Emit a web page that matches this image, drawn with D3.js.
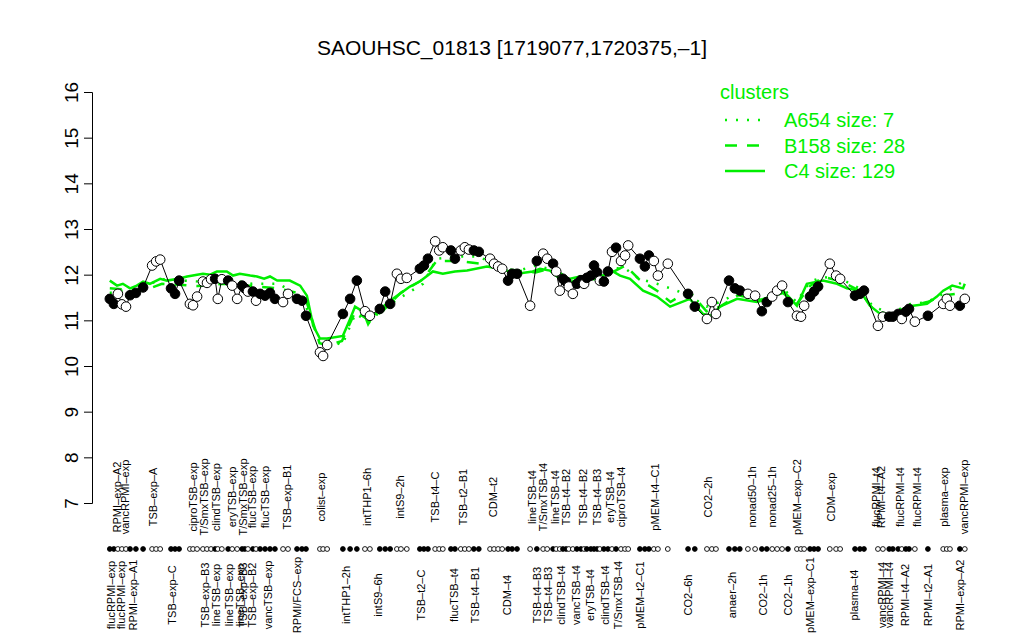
<!DOCTYPE html>
<html>
<head>
<meta charset="utf-8">
<script src="https://cdn.jsdelivr.net/npm/d3@7"></script>
<style>
  body { margin: 0; background: #fff; }
  text { font-family: "Liberation Sans", Arial, Helvetica, sans-serif; }
</style>
</head>
<body>
<div id="chart"></div>
<script>
var width = 1024,
    height = 640;

// sample positions (sample index along the x axis), expression values, filled marker flag
var sampleX = [0.4, 1.3, 2.2, 3.1, 4.0, 4.9, 6.2, 7.8, 9.8, 10.7, 11.6, 14.0, 14.9, 15.8, 18.2, 18.9, 19.8,
    21.1, 22.0, 22.9, 23.8, 24.4, 25.3, 26.7, 27.6, 28.7, 29.8, 30.4, 31.1, 32.2, 32.9, 33.8, 34.9, 36.0, 37.1,
    38.9, 40.0, 42.0, 43.1, 44.0, 47.1, 47.8, 48.7, 52.2, 53.8, 55.3, 57.1, 58.2, 60.4, 61.6, 62.7, 64.2, 65.1,
    66.4, 69.3, 70.2, 71.1, 72.7, 73.6, 74.4, 76.2, 77.1, 78.4, 79.3, 80.2, 81.3, 82.4, 84.9, 85.8, 86.7, 87.6,
    88.9, 89.8, 90.9, 93.8, 95.3, 96.7, 97.6, 98.9, 99.6, 100.4, 101.1, 101.8, 102.4, 103.3, 104.2, 105.1, 105.8,
    106.4, 107.3, 108.0, 108.7, 109.3, 110.2, 111.1, 112.0, 112.9, 114.0, 114.9, 115.6, 118.2, 119.3, 120.2,
    121.3, 122.2, 124.4, 128.9, 130.4, 133.1, 134.2, 135.1, 138.0, 139.3, 140.4, 142.2, 143.8, 145.3, 146.4,
    147.6, 148.7, 149.8, 151.1, 153.1, 154.0, 154.7, 156.0, 156.9, 157.8, 160.4, 161.8, 162.7, 166.0, 167.1,
    168.0, 171.1, 172.2, 173.6, 174.4, 175.6, 176.4, 177.3, 178.0, 179.3, 182.2, 185.6, 186.4, 187.1, 189.3, 190.4];
var sampleY = [11.47, 11.36, 11.58, 11.35, 11.3, 11.55, 11.6, 11.72, 12.2, 12.29, 12.33, 11.7, 11.58, 11.87, 11.36, 11.33, 11.52,
    11.85, 11.82, 11.9, 11.91, 11.47, 11.9, 11.87, 11.76, 11.47, 11.76, 11.7, 11.63, 11.63, 11.43, 11.58, 11.54, 11.6, 11.47,
    11.4, 11.58, 11.47, 11.43, 11.1, 10.3, 10.22, 10.46, 11.14, 11.47, 11.87, 11.2, 11.1, 11.25, 11.63, 11.36, 12.02, 11.91,
    11.93, 12.13, 12.2, 12.35, 12.73, 12.53, 12.6, 12.53, 12.35, 12.53, 12.6, 12.55, 12.53, 12.5, 12.35, 12.24, 12.18, 12.13,
    11.87, 12.02, 12.02, 11.32, 12.3, 12.46, 12.35, 12.24, 12.07, 11.65, 11.91, 11.85, 11.74, 11.58, 11.8, 11.88, 11.8,
    11.93, 11.98, 12.2, 12.05, 11.87, 11.85, 12.07, 12.5, 12.59, 12.3, 12.42, 12.64, 12.35, 12.18, 12.42,
    12.3, 11.98, 12.24, 11.58, 11.3, 11.03, 11.4, 11.14, 11.87, 11.7, 11.65, 11.58, 11.54, 11.2, 11.4,
    11.52, 11.65, 11.76, 11.4, 11.1, 11.08, 11.32, 11.52, 11.63, 11.74, 12.24, 11.98, 11.91, 11.54, 11.58,
    11.65, 10.88, 11.08, 11.08, 11.08, 11.14, 11.03, 11.19, 11.25, 10.97, 11.1, 11.36, 11.47, 11.32, 11.32, 11.47];
var sampleFilled = [1, 1, 0, 0, 0, 1, 1, 1, 0, 0, 0, 1, 1, 1, 0, 0, 0,
    0, 0, 0, 1, 0, 0, 1, 0, 0, 1, 1, 0, 1, 0, 1, 1, 1, 1,
    0, 0, 1, 1, 1, 0, 0, 0, 1, 1, 1, 0, 0, 1, 1, 1, 0, 0,
    0, 1, 1, 1, 0, 0, 0, 1, 1, 0, 0, 0, 1, 1, 0, 0, 0, 0,
    1, 1, 1, 0, 1, 0, 0, 1, 0, 0, 1, 1, 0, 0, 1, 1, 0,
    1, 1, 1, 1, 0, 1, 1, 0, 1, 0, 0, 0, 1, 1, 1,
    0, 0, 0, 1, 1, 0, 0, 0, 1, 1, 1, 0, 0, 1, 1,
    0, 0, 0, 1, 0, 0, 0, 1, 1, 1, 0, 0, 0, 1, 1,
    1, 0, 0, 1, 1, 1, 0, 1, 1, 0, 1, 0, 0, 0, 1, 0];

// cluster profiles [sample index, value]
var clusterC4 = [[0.4, 11.87], [2, 11.76], [3.3, 11.8], [4.9, 11.7], [6.4, 11.76], [7.8, 11.85], [9.3, 11.8],
    [11.6, 11.91], [13.1, 11.87], [15.6, 11.91], [17.6, 11.96], [19.8, 12.0], [21.1, 12.02], [22.7, 12.0],
    [24.2, 12.07], [26.4, 12.07], [27.8, 11.98], [29.3, 12.02], [31.6, 11.98], [33.1, 11.96], [34.7, 11.91],
    [36, 11.96], [37.6, 11.87], [40.4, 11.87], [42.7, 11.76], [44.2, 11.54], [45.6, 10.88], [47.1, 10.6],
    [48.7, 10.6], [52.2, 10.66], [53.8, 11.03], [54.9, 11.3], [56.7, 11.19], [57.8, 10.92], [58.7, 11.08],
    [61.1, 11.3], [63.3, 11.47], [67.1, 11.74], [69.3, 11.85], [72.2, 12.07], [74.4, 12.02], [77.1, 12.07],
    [79.8, 12.09], [84.2, 12.18], [87.1, 12.13], [89.3, 12.07], [90.9, 12.02], [94.4, 12.07], [96, 12.13],
    [98.2, 12.09], [100.4, 11.91], [102.7, 11.91], [104.9, 11.96], [107.1, 11.96], [110, 11.98], [112.2, 12.07],
    [113.8, 11.98], [116, 11.91], [118.9, 11.65], [122, 11.52], [124.9, 11.3], [129.3, 11.47], [132.2, 11.14],
    [134.2, 11.1], [136, 11.3], [139.8, 11.47], [144.2, 11.4], [147.1, 11.47], [150, 11.65], [153.1, 11.32],
    [155.3, 11.8], [158.9, 11.87], [162, 11.8], [164.2, 11.7], [167.1, 11.65], [169.3, 11.32], [171.6, 11.14],
    [173.8, 11.1], [176.7, 11.25], [178.9, 11.32], [182, 11.36], [184.2, 11.52], [185.6, 11.65], [187.6, 11.76],
    [190, 11.7], [190.4, 11.8]];
var clusterB158 = [[0.4, 11.7], [8, 11.65], [12, 11.8], [20, 11.75], [26, 11.8], [32, 11.75], [38, 11.7], [42, 11.6],
    [44, 11.45], [47, 10.5], [49, 10.45], [52, 10.55], [55, 11.2], [58, 11.0], [61, 11.2], [65, 11.6], [70, 11.9],
    [73, 12.3], [78, 12.3], [82, 12.25], [86, 12.2], [90, 12.1], [95, 12.05], [99, 12.15], [103, 11.85], [108, 11.9],
    [112, 12.05], [115, 12.2], [118, 11.9], [122, 11.65], [125, 11.4], [129, 11.65], [133, 11.2], [136, 11.3],
    [140, 11.55], [145, 11.45], [150, 11.6], [153, 11.35], [156, 11.75], [159, 11.95], [163, 11.85], [167, 11.65],
    [170, 11.25], [174, 11.1], [178, 11.3], [182, 11.4], [186, 11.55], [190, 11.6]];
var clusterA654 = [[0.4, 11.6], [8, 11.75], [12, 11.9], [20, 11.85], [26, 11.9], [32, 11.8], [38, 11.8], [42, 11.55],
    [44, 11.3], [47, 10.55], [49, 10.6], [52, 10.45], [55, 11.15], [58, 10.95], [61, 11.25], [65, 11.5], [70, 11.8],
    [73, 12.35], [78, 12.4], [82, 12.4], [86, 12.25], [90, 12.05], [95, 12.2], [99, 12.1], [103, 11.9], [108, 11.95],
    [112, 12.15], [115, 12.13], [118, 11.91], [122, 11.8], [125, 11.7], [129, 11.55], [133, 11.3], [136, 11.4],
    [140, 11.6], [145, 11.45], [150, 11.7], [153, 11.4], [156, 11.85], [159, 11.95], [163, 11.9], [167, 11.7],
    [170, 11.3], [174, 11.15], [178, 11.35], [182, 11.4], [186, 11.6], [190, 11.85]];

var topLabels = ["RPMI\u2013exp\u2013A2", "vancRPMI\u2013exp", "TSB\u2013exp\u2013A", "ciproTSB\u2013exp", "T/SmxTSB\u2013exp",
    "clindTSB\u2013exp", "eryTSB\u2013exp", "T/SmxTSB\u2013exp", "flucTSB\u2013exp", "flucTSB\u2013exp", "TSB\u2013exp\u2013B1",
    "colist\u2013exp", "intTHP1\u20136h", "intS9\u20132h", "TSB\u2013t4\u2013C", "TSB\u2013t2\u2013B1", "CDM\u2013t2",
    "lineTSB\u2013t4", "T/SmxTSB\u2013t4", "lineTSB\u2013t4", "TSB\u2013t4\u2013B2", "TSB\u2013t4\u2013B2", "TSB\u2013t4\u2013B3",
    "eryTSB\u2013t4", "ciproTSB\u2013t4", "pMEM\u2013t4\u2013C1", "CO2\u20132h", "nonad50\u20131h", "nonad25\u20131h",
    "pMEM\u2013exp\u2013C2", "CDM\u2013exp", "flucRPMI\u2013t4", "RPMI\u2013t4\u2013A2", "flucRPMI\u2013t4", "flucRPMI\u2013t4",
    "plasma\u2013exp", "vancRPMI\u2013exp"];
var topLabelX = [2.0, 3.8, 10.0, 18.9, 21.3, 24.0, 27.6, 30.0, 32.0, 34.9, 39.8, 47.3, 57.6, 64.9, 72.7, 78.9, 85.6,
    94.2, 96.7, 99.3, 101.8, 105.6, 108.7, 111.6, 114.0, 121.6, 133.3, 143.1, 147.6, 153.1, 160.7, 170.7, 171.8,
    176.0, 179.8, 185.8, 190.2];
var bottomLabels = ["flucRPMI\u2013exp", "flucRPMI\u2013exp", "RPMI\u2013exp\u2013A1", "TSB\u2013exp\u2013C", "TSB\u2013exp\u2013B3",
    "lineTSB\u2013exp", "lineTSB\u2013exp", "lineTSB\u2013exp", "TSB\u2013exp\u2013B3", "TSB\u2013exp\u2013B2", "vancTSB\u2013exp",
    "RPMI/FCS\u2013exp", "intTHP1\u20132h", "intS9\u20136h", "TSB\u2013t2\u2013C", "flucTSB\u2013t4", "TSB\u2013t4\u2013B1",
    "CDM\u2013t4", "TSB\u2013t4\u2013B3", "TSB\u2013t4\u2013B3", "clindTSB\u2013t4", "vancTSB\u2013t4", "eryTSB\u2013t4",
    "clindTSB\u2013t4", "T/SmxTSB\u2013t4", "pMEM\u2013t2\u2013C1", "CO2\u20136h", "anaer\u20132h", "CO2\u20131h", "CO2\u20131h",
    "pMEM\u2013exp\u2013C1", "plasma\u2013t4", "vancRPMI\u2013t4", "vancRPMI\u2013t4", "RPMI\u2013t4\u2013A2", "RPMI\u2013t2\u2013A1",
    "RPMI\u2013exp\u2013A2"];
var bottomLabelX = [0.7, 2.9, 5.6, 14.2, 21.6, 24.0, 26.9, 29.3, 30.0, 32.0, 35.6, 42.0, 52.9, 60.0, 69.6, 76.9, 81.6,
    88.7, 95.3, 97.8, 100.7, 104.0, 107.1, 110.4, 113.3, 118.2, 128.9, 138.7, 145.6, 151.1, 156.0, 165.8, 172.0,
    173.6, 177.1, 182.2, 189.3];

var yTicks = [7, 8, 9, 10, 11, 12, 13, 14, 15, 16];
var legendNames = ["A654 size: 7", "B158 size: 28", "C4 size: 129"];
var legendDash = ["2,9", "12,10", null];

var green = "#00ee00";

var svg = d3.select("#chart")
    .append("svg")
    .attr("width", width)
    .attr("height", height);

var x = d3.scaleLinear()
    .domain([0, 190])
    .range([108, 963]);

var y = d3.scaleLinear()
    .domain([7, 16])
    .range([503, 92]);

// title
svg.append("text")
    .attr("x", 512)
    .attr("y", 55)
    .attr("text-anchor", "middle")
    .style("font-size", "21px")
    .text("SAOUHSC_01813 [1719077,1720375,\u20131]");

// y axis
var yAxis = d3.axisLeft(y)
    .tickValues(yTicks)
    .tickSize(8)
    .tickFormat(d3.format("d"));

var ga = svg.append("g")
    .attr("transform", "translate(92,0)")
    .call(yAxis);
ga.select(".domain").attr("stroke", "#000");
ga.selectAll(".tick text")
    .attr("x", 0)
    .attr("y", 0)
    .attr("dy", null)
    .attr("text-anchor", "middle")
    .attr("fill", "#000")
    .style("font-size", "19px")
    .attr("transform", "translate(-14,0)rotate(-90)");

// cluster lines
var line = d3.line()
    .x(function (d) { return x(d[0]); })
    .y(function (d) { return y(d[1]); });

var clusters = [clusterA654, clusterB158, clusterC4];
clusters.forEach(function (c, i) {
    svg.append("path")
        .datum(c)
        .attr("d", line)
        .attr("fill", "none")
        .attr("stroke", green)
        .attr("stroke-width", 2.5)
        .attr("stroke-dasharray", legendDash[i]);
});

// sample line + points
var samples = sampleX.map(function (v, i) {
    return [v, sampleY[i], sampleFilled[i]];
});

svg.append("path")
    .datum(samples)
    .attr("d", line)
    .attr("fill", "none")
    .attr("stroke", "#000")
    .attr("stroke-width", 1);

svg.selectAll("circle.pt")
    .data(samples)
    .enter()
    .append("circle")
    .attr("class", "pt")
    .attr("cx", function (d) { return x(d[0]); })
    .attr("cy", function (d) { return y(d[1]); })
    .attr("r", 4.8)
    .attr("fill", function (d) { return d[2] ? "#000" : "#fff"; })
    .attr("stroke", "#000")
    .attr("stroke-width", 1);

// small marker row
svg.selectAll("circle.mk")
    .data(samples)
    .enter()
    .append("circle")
    .attr("class", "mk")
    .attr("cx", function (d) { return x(d[0]); })
    .attr("cy", 549)
    .attr("r", 2.4)
    .attr("fill", function (d) { return d[2] ? "#000" : "#fff"; })
    .attr("stroke", "#000")
    .attr("stroke-width", 0.9);

// sample labels
svg.selectAll("text.top")
    .data(topLabels)
    .enter()
    .append("text")
    .attr("class", "top")
    .attr("text-anchor", "middle")
    .attr("dy", "0.35em")
    .style("font-size", "11px")
    .attr("transform", function (d, i) {
        return "translate(" + x(topLabelX[i]) + ",497)rotate(-90)";
    })
    .text(function (d) { return d; });

svg.selectAll("text.bottom")
    .data(bottomLabels)
    .enter()
    .append("text")
    .attr("class", "bottom")
    .attr("text-anchor", "middle")
    .attr("dy", "0.35em")
    .style("font-size", "11px")
    .attr("transform", function (d, i) {
        return "translate(" + x(bottomLabelX[i]) + ",595)rotate(-90)";
    })
    .text(function (d) { return d; });

// legend
var lg = svg.append("g").attr("transform", "translate(720,0)");
lg.append("text")
    .attr("x", 0)
    .attr("y", 99)
    .attr("fill", green)
    .style("font-size", "20px")
    .text("clusters");

legendNames.forEach(function (name, i) {
    var ly = 120 + i * 25.5;
    lg.append("line")
        .attr("x1", 5)
        .attr("x2", 45)
        .attr("y1", ly)
        .attr("y2", ly)
        .attr("stroke", green)
        .attr("stroke-width", 2.5)
        .attr("stroke-dasharray", legendDash[i]);
    lg.append("text")
        .attr("x", 64)
        .attr("y", ly + 7)
        .attr("fill", green)
        .style("font-size", "20px")
        .text(name);
});
</script>
</body>
</html>
